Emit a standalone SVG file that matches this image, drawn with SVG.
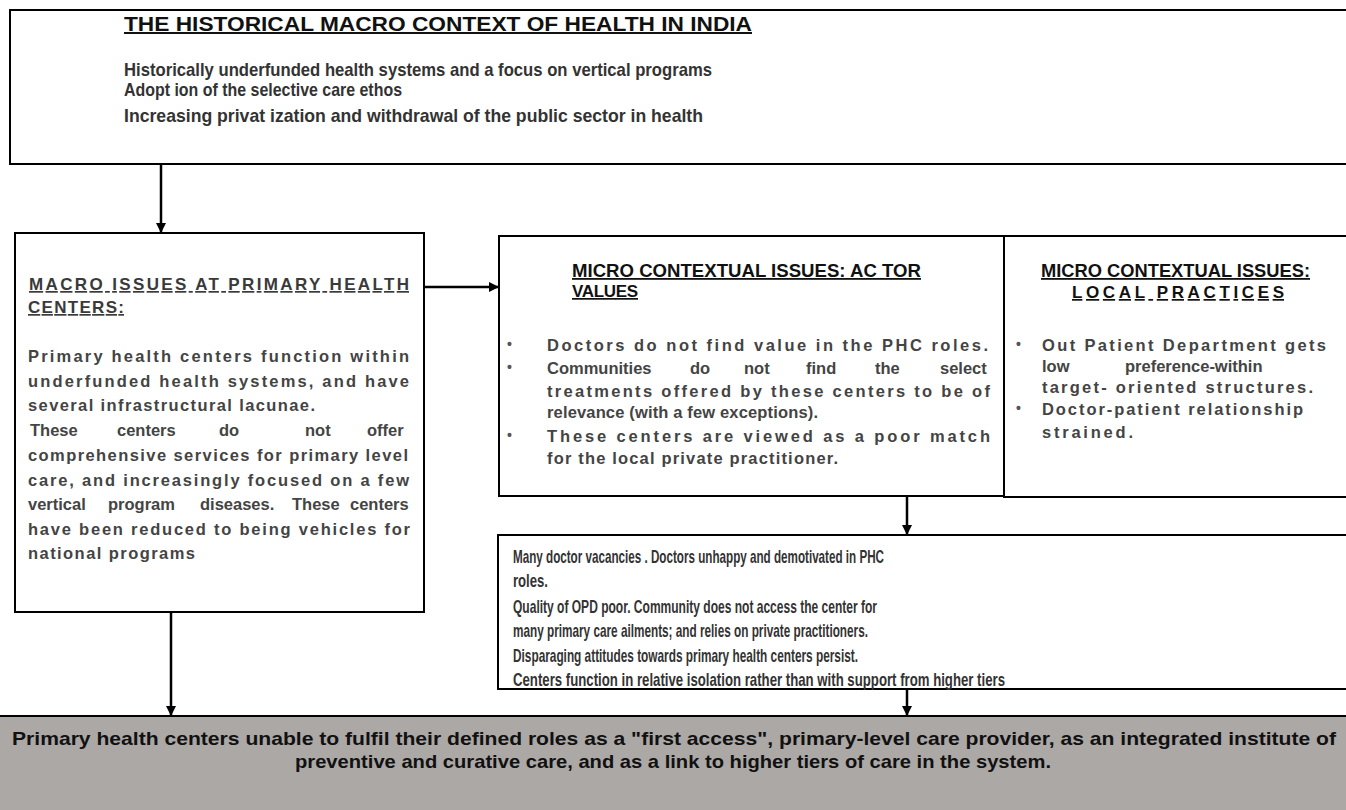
<svg xmlns="http://www.w3.org/2000/svg" width="1346" height="810" viewBox="0 0 1346 810">
<defs>
<style>
.box{fill:#fff;stroke:#000;stroke-width:2}
.bar{fill:#aca8a6;stroke:#000;stroke-width:2}
.conn{stroke:#000;stroke-width:2.5;fill:none}
text{font-family:"Liberation Sans",Arial,sans-serif;font-weight:bold}
.t{fill:#111;text-decoration:underline}
.tg{fill:#3a3a3a;text-decoration:underline}
.b{fill:#333;font-size:18.5px}
.g{fill:#444;font-size:16.5px}
.k{fill:#111;font-size:18.5px}
.d{fill:#555;font-size:14px}
</style>
<marker id="ah" markerWidth="10" markerHeight="10" refX="9" refY="5" orient="auto" markerUnits="userSpaceOnUse">
<path d="M0,0 L10,5 L0,10 z" fill="#000"/>
</marker>
</defs>

<g id="connectors">
<line class="conn" x1="161" y1="164" x2="161" y2="232" marker-end="url(#ah)"/>
<line class="conn" x1="425" y1="287" x2="498" y2="287" marker-end="url(#ah)"/>
<line class="conn" x1="907" y1="497" x2="907" y2="534" marker-end="url(#ah)"/>
<line class="conn" x1="171" y1="613" x2="171" y2="715" marker-end="url(#ah)"/>
<line class="conn" x1="907" y1="690" x2="907" y2="715" marker-end="url(#ah)"/>
</g>

<g id="historical-context">
<rect class="box" x="10" y="10" width="1345" height="154"/>
<text class="t" x="124" y="31" font-size="20" textLength="628" lengthAdjust="spacingAndGlyphs">THE HISTORICAL MACRO CONTEXT OF HEALTH IN INDIA</text>
<text class="b" x="124" y="76" textLength="588" lengthAdjust="spacingAndGlyphs">Historically  underfunded health systems  and a focus on vertical programs</text>
<text class="b" x="124" y="96" textLength="278" lengthAdjust="spacingAndGlyphs">Adopt ion of the selective care ethos</text>
<text class="b" x="124" y="122" textLength="579" lengthAdjust="spacingAndGlyphs">Increasing  privat ization and withdrawal of the public sector in health</text>
</g>

<g id="macro-issues">
<rect class="box" x="15" y="233" width="409" height="379"/>
<text class="tg" x="29" y="290" font-size="17" textLength="380" lengthAdjust="spacing">MACRO ISSUES AT PRIMARY HEALTH</text>
<text class="tg" x="28" y="313" font-size="17" textLength="96" lengthAdjust="spacing">CENTERS:</text>
<text class="g" x="28" y="362" textLength="381" lengthAdjust="spacing">Primary health centers function   within</text>
<text class="g" x="28" y="387" textLength="381" lengthAdjust="spacing">underfunded  health systems,  and have</text>
<text class="g" x="28" y="411" textLength="287" lengthAdjust="spacing">several  infrastructural lacunae.</text>
<text class="g" y="436"><tspan x="30">These</tspan><tspan x="117">centers</tspan><tspan x="219">do</tspan><tspan x="305">not</tspan><tspan x="367">offer</tspan></text>
<text class="g" x="28" y="461" textLength="380" lengthAdjust="spacing">comprehensive services for primary  level</text>
<text class="g" x="28" y="486" textLength="381" lengthAdjust="spacing">care, and increasingly  focused on a few</text>
<text class="g" y="510"><tspan x="28">vertical</tspan><tspan x="108">program</tspan><tspan x="200">diseases.</tspan><tspan x="292">These</tspan><tspan x="350">centers</tspan></text>
<text class="g" x="28" y="535" textLength="382" lengthAdjust="spacing">have been reduced to being vehicles for</text>
<text class="g" x="28" y="559" textLength="167" lengthAdjust="spacing">national programs</text>
</g>

<g id="actor-values">
<rect class="box" x="499" y="236" width="505" height="260"/>
<text class="t" x="572" y="277" font-size="18" textLength="349" lengthAdjust="spacingAndGlyphs">MICRO CONTEXTUAL ISSUES: AC TOR</text>
<text class="t" x="572" y="297" font-size="17" textLength="66" lengthAdjust="spacing">VALUES</text>
<text class="d" x="507" y="349">•</text>
<text class="d" x="507" y="372">•</text>
<text class="d" x="507" y="440">•</text>
<text class="g" x="547" y="351" textLength="441" lengthAdjust="spacing" fill="#222">Doctors do not find value in the PHC roles.</text>
<text class="g" y="374"><tspan x="547">Communities</tspan><tspan x="690">do</tspan><tspan x="744">not</tspan><tspan x="806">find</tspan><tspan x="875">the</tspan><tspan x="940">select</tspan></text>
<text class="g" x="547" y="397" textLength="443" lengthAdjust="spacing">treatments offered by these centers to be of</text>
<text class="g" x="547" y="418" textLength="271" lengthAdjust="spacing">relevance (with a few exceptions).</text>
<text class="g" x="547" y="442" textLength="443" lengthAdjust="spacing">These centers are viewed as a poor match</text>
<text class="g" x="547" y="464" textLength="291" lengthAdjust="spacing">for  the local private practitioner.</text>
</g>

<g id="local-practices">
<rect class="box" x="1004" y="236" width="350" height="261"/>
<text class="t" x="1041" y="277" font-size="18" textLength="269" lengthAdjust="spacingAndGlyphs">MICRO CONTEXTUAL ISSUES:</text>
<text class="t" x="1072" y="298" font-size="17" textLength="212" lengthAdjust="spacing">LOCAL PRACTICES</text>
<text class="d" x="1016" y="349">•</text>
<text class="d" x="1016" y="413">•</text>
<text class="g" x="1042" y="351" textLength="284" lengthAdjust="spacing">Out Patient Department gets</text>
<text class="g" y="372"><tspan x="1042">low</tspan><tspan x="1125">preference-within</tspan></text>
<text class="g" x="1042" y="393" textLength="271" lengthAdjust="spacing">target- oriented structures.</text>
<text class="g" x="1042" y="415" textLength="261" lengthAdjust="spacing">Doctor-patient relationship</text>
<text class="g" x="1042" y="438" textLength="91" lengthAdjust="spacing">strained.</text>
</g>

<g id="outcomes">
<rect class="box" x="498" y="535" width="856" height="154"/>
<text class="b" x="513" y="563" textLength="371" lengthAdjust="spacingAndGlyphs">Many doctor vacancies . Doctors unhappy and demotivated  in  PHC</text>
<text class="b" x="513" y="587" textLength="35" lengthAdjust="spacingAndGlyphs">roles.</text>
<text class="b" x="513" y="613" textLength="364" lengthAdjust="spacingAndGlyphs">Quality of OPD poor. Community  does not access the center for</text>
<text class="b" x="513" y="637" textLength="355" lengthAdjust="spacingAndGlyphs">many primary care ailments; and relies on private practitioners.</text>
<text class="b" x="513" y="662" textLength="345" lengthAdjust="spacingAndGlyphs">Disparaging  attitudes towards primary  health centers persist.</text>
<text class="b" x="513" y="686" textLength="492" lengthAdjust="spacingAndGlyphs">Centers function  in relative isolation  rather than with support from higher tiers</text>
</g>

<g id="conclusion">
<rect class="bar" x="-2" y="716" width="1350" height="100"/>
<text class="k" x="12" y="745" textLength="1324" lengthAdjust="spacingAndGlyphs">Primary health centers unable to fulfil  their defined  roles as a  "first access",  primary-level care  provider, as an  integrated institute of</text>
<text class="k" x="295" y="768" textLength="756" lengthAdjust="spacingAndGlyphs">preventive  and curative  care,  and as a link to higher  tiers of care in the system.</text>
</g>
</svg>
